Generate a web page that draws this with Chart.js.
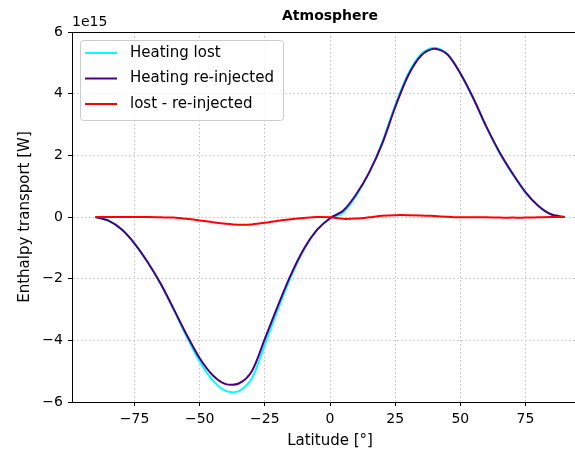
<!DOCTYPE html>
<html>
<head>
<meta charset="utf-8">
<script src="https://cdn.jsdelivr.net/npm/chart.js@4.4.0/dist/chart.umd.min.js"></script>
<style>
html, body { margin: 0; padding: 0; overflow: hidden; background: #fff; }
</style>
</head>
<body>
<canvas id="chart" width="600" height="455"></canvas>
<script>
// values in units of 1e15 W
var latitudes = [-90, -85, -80, -75, -70, -65, -60, -55, -50, -45, -40, -35, -30, -25, -20, -15, -10, -5, 0,
                 5, 10, 15, 20, 25, 30, 35, 40, 45, 50, 55, 60, 65, 70, 75, 80, 85, 90];
var heatingLost = [0, -0.12, -0.40, -0.86, -1.46, -2.17, -3.00, -3.88, -4.69, -5.30, -5.64, -5.65, -5.24, -4.14, -3.00, -1.94, -1.06, -0.42, -0.05,
                   0.14, 0.68, 1.43, 2.41, 3.62, 4.65, 5.29, 5.49, 5.29, 4.65, 3.84, 2.92, 2.09, 1.40, 0.79, 0.35, 0.08, 0];
var heatingReinjected = [0, -0.12, -0.40, -0.86, -1.46, -2.16, -2.98, -3.82, -4.58, -5.13, -5.42, -5.40, -5.00, -3.95, -2.88, -1.87, -1.03, -0.42, -0.04,
                         0.20, 0.73, 1.44, 2.37, 3.56, 4.59, 5.24, 5.46, 5.28, 4.66, 3.85, 2.93, 2.11, 1.42, 0.81, 0.36, 0.08, 0];
var lostMinusReinjected = [0, 0, 0, 0, 0, -0.01, -0.02, -0.06, -0.11, -0.17, -0.22, -0.25, -0.24, -0.19, -0.12, -0.07, -0.03, 0, -0.01,
                           -0.06, -0.05, -0.01, 0.04, 0.06, 0.06, 0.05, 0.03, 0.01, -0.01, -0.01, -0.01, -0.02, -0.02, -0.02, -0.01, 0, 0];
var seriesNames = ['Heating lost', 'Heating re-injected', 'lost - re-injected'];
var xTicks = [-75, -50, -25, 0, 25, 50, 75];
var yTicks = [-6, -4, -2, 0, 2, 4, 6];

var FONT = "'DejaVu Sans', sans-serif";

function toPoints(values) {
    return latitudes.map(function (lat, i) { return { x: lat, y: values[i] }; });
}
function minusSign(v) {
    return String(v).replace('-', '\u2212');
}

// title, offset text, top spine and the boxed legend
var decorations = {
    id: 'decorations',
    afterDraw: function (chart) {
        var ctx = chart.ctx;
        var area = chart.chartArea;
        ctx.save();
        ctx.strokeStyle = '#000';
        ctx.lineWidth = 1;
        ctx.beginPath();
        ctx.moveTo(area.left, area.top + 0.5);
        ctx.lineTo(area.right, area.top + 0.5);
        ctx.stroke();

        ctx.fillStyle = '#000';
        ctx.font = 'bold 14px ' + FONT;
        ctx.textAlign = 'center';
        ctx.textBaseline = 'middle';
        ctx.fillText('Atmosphere', (area.left + area.right) / 2, 16);

        ctx.font = '14px ' + FONT;
        ctx.textAlign = 'left';
        ctx.fillText('1e15', area.left, 22);

        // legend
        var lx = area.left + 8, ly = area.top + 8, lw = 203, lh = 80;
        ctx.beginPath();
        ctx.roundRect(lx + 0.5, ly + 0.5, lw, lh, 3);
        ctx.fillStyle = 'rgba(255,255,255,0.8)';
        ctx.fill();
        ctx.strokeStyle = '#cccccc';
        ctx.stroke();
        chart.data.datasets.forEach(function (ds, i) {
            var y = ly + 13 + i * 25.5;
            ctx.strokeStyle = ds.borderColor;
            ctx.lineWidth = 2;
            ctx.beginPath();
            ctx.moveTo(lx + 5, y);
            ctx.lineTo(lx + 37, y);
            ctx.stroke();
            ctx.fillStyle = '#000';
            ctx.font = '15px ' + FONT;
            ctx.textAlign = 'left';
            ctx.textBaseline = 'middle';
            ctx.fillText(ds.label, lx + 50, y);
        });
        ctx.restore();
    }
};

var gridOpts = {
    color: '#c0c0c0',
    tickColor: '#000',
    tickLength: 4,
    tickBorderDash: []
};
var borderOpts = { color: '#000', width: 1, dash: [1.5, 2.5] };

var ctx = document.getElementById('chart').getContext('2d');
var chart = new Chart(ctx, {
    type: 'line',
    data: {
        datasets: [{
            label: seriesNames[0],
            data: toPoints(heatingLost),
            borderColor: '#00ffff',
            order: 3
        }, {
            label: seriesNames[1],
            data: toPoints(heatingReinjected),
            borderColor: '#4b0082',
            order: 2
        }, {
            label: seriesNames[2],
            data: toPoints(lostMinusReinjected),
            borderColor: '#ff0000',
            order: 1
        }]
    },
    options: {
        responsive: false,
        animation: false,
        devicePixelRatio: 1,
        layout: { padding: { top: 32, right: 12, left: 0, bottom: 0 } },
        elements: {
            line: { borderWidth: 2, tension: 0.3, fill: false },
            point: { radius: 0 }
        },
        plugins: {
            legend: { display: false },
            tooltip: { enabled: false }
        },
        scales: {
            x: {
                type: 'linear',
                min: -99,
                max: 99,
                afterBuildTicks: function (scale) {
                    scale.ticks = xTicks.map(function (v) { return { value: v }; });
                },
                afterFit: function (scale) { scale.height = 53; },
                ticks: {
                    color: '#000',
                    font: { family: FONT, size: 14 },
                    padding: 5,
                    maxRotation: 0,
                    callback: function (v) { return minusSign(v); }
                },
                grid: gridOpts,
                border: borderOpts,
                title: {
                    display: true,
                    text: 'Latitude [°]',
                    color: '#000',
                    font: { family: FONT, size: 15 },
                    padding: { top: 0, bottom: 5 }
                }
            },
            y: {
                min: -6,
                max: 6,
                afterBuildTicks: function (scale) {
                    scale.ticks = yTicks.map(function (v) { return { value: v }; });
                },
                afterFit: function (scale) { scale.width = 72; },
                ticks: {
                    color: '#000',
                    font: { family: FONT, size: 14 },
                    padding: 5,
                    callback: function (v) { return minusSign(v); }
                },
                grid: gridOpts,
                border: borderOpts,
                title: {
                    display: true,
                    text: 'Enthalpy transport [W]',
                    color: '#000',
                    font: { family: FONT, size: 15 },
                    padding: { top: 16, bottom: 0 }
                }
            }
        }
    },
    plugins: [decorations]
});
</script>
</body>
</html>
